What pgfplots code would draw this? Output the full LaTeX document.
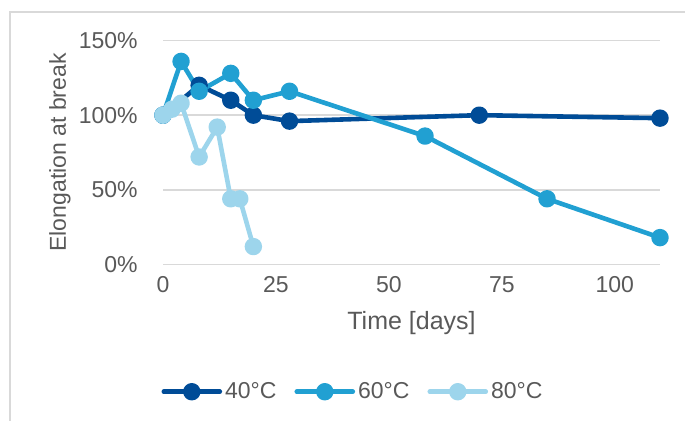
\documentclass[border=0pt]{standalone}
\usepackage{fontspec}
\setmainfont{Liberation Sans}
\usepackage{pgfplots}
\pgfplotsset{compat=1.18}

\definecolor{c40}{HTML}{004C97}
\definecolor{c60}{HTML}{21A0D2}
\definecolor{c80}{HTML}{9DD5EC}
\definecolor{txt}{HTML}{595959}
\definecolor{gridc}{HTML}{D9D9D9}

\begin{document}
\begin{tikzpicture}
% image is 685x421 px, 1px = 0.5pt
\useasboundingbox (0,0) rectangle (342.5pt,-210.5pt);
\draw[gridc, line width=0.7pt] (5pt,-211pt) -- (5pt,-6pt) -- (343pt,-6pt);
\begin{axis}[
  at={(81.5pt,-132.25pt)}, anchor=south west,
  scale only axis,
  width=248.5pt, height=112pt,
  xmin=0, xmax=110, ymin=0, ymax=150,
  xtick={0,25,50,75,100},
  ytick={0,50,100,150},
  yticklabel={\pgfmathprintnumber{\tick}\%},
  /pgf/number format/assume math mode=true,
  axis line style={draw=none},
  major tick length=0pt,
  ymajorgrids,
  major grid style={gridc, line width=0.75pt},
  tick label style={font=\fontsize{11.5}{13}\selectfont, text=txt},
  yticklabel style={inner sep=0pt, anchor=east},
  yticklabel shift=12.5pt,
  xticklabel style={inner sep=0pt, anchor=north},
  xticklabel shift=6pt,
  xlabel={Time [days]},
  ylabel={Elongation at break},
  xlabel style={font=\fontsize{12.5}{14}\selectfont, text=txt,
    at={(axis description cs:0.5,0)}, anchor=center, yshift=-29.5pt},
  ylabel style={font=\fontsize{11.5}{13}\selectfont, text=txt,
    at={(axis description cs:0,0.5)}, anchor=center, rotate=0, yshift=51.5pt},
  legend columns=3,
  legend style={at={(axis description cs:-0.003,-0.568)}, anchor=west,
    draw=none, fill=none, inner sep=0pt, outer sep=0pt,
    font=\fontsize{11.5}{13}\selectfont, text=txt,
    nodes={inner sep=1.5pt},
    /tikz/every even column/.append style={column sep=7.5pt}},
  legend image code/.code={\draw[mark repeat=2, mark phase=2]
    plot coordinates {(0pt,0pt) (14pt,0pt) (28pt,0pt)};},
  every axis plot/.append style={line width=2.3pt, line join=round, line cap=round,
    mark=*, mark size=3.2pt},
  clip=false,
]
\addplot[color=c40, mark options={fill=c40, draw=c40}] coordinates {
(0,100) (8,120) (15,110) (20,100) (28,96) (70,100) (110,98)};
\addlegendentry{40°C}
\addplot[color=c60, mark options={fill=c60, draw=c60}] coordinates {
(0,100) (4,136) (8,116) (15,128) (20,110) (28,116) (58,86) (85,44) (110,18)};
\addlegendentry{60°C}
\addplot[color=c80, mark options={fill=c80, draw=c80}] coordinates {
(0,100) (2,104) (4,108) (8,72) (12,92) (15,44) (17,44) (20,12)};
\addlegendentry{80°C}
\end{axis}
\end{tikzpicture}
\end{document}
